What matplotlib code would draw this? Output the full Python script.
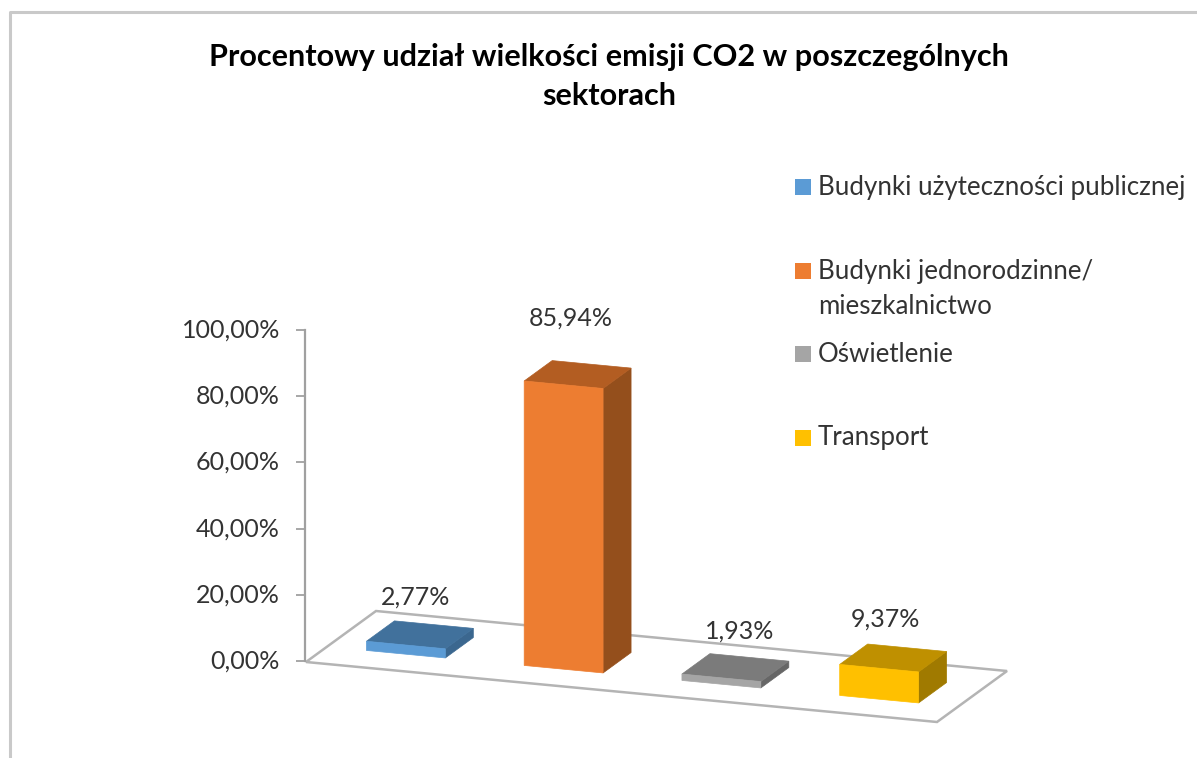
import numpy as np
from matplotlib import pyplot as plt
from matplotlib.patches import Polygon

# chart values
categories = ['Budynki użyteczności publicznej', 'Budynki jednorodzinne/\nmieszkalnictwo',
              'Oświetlenie', 'Transport']
values = [2.77, 85.94, 1.93, 9.37]
value_labels = ['2,77%', '85,94%', '1,93%', '9,37%']
value_ticks = [0, 20, 40, 60, 80, 100]
title = 'Procentowy udział wielkości emisji CO2 w poszczególnych\nsektorach'

# face colours: front, top, side
front_colors = ['#5b9bd5', '#ed7d31', '#a5a5a5', '#ffc000']
top_colors = ['#41719c', '#b35d22', '#7b7b7b', '#bf9000']
side_colors = ['#3b678f', '#944f1c', '#666666', '#a07a00']

W, H = 1197, 758
# oblique projection of the floor, in pixels
origin = np.array([306., 662.])
front_vec = np.array([631., 60.])
depth_vec = np.array([70., -51.])
px_per_unit = 3.31
bar_width = 0.125
bar_depth = (0.3, 0.7)
label_shift = [(-4, -38), (-7, -56), (4, -37), (-8, -39)]
legend_y = [187, 271, 354, 438]

plt.rcParams['font.family'] = ['Lato', 'DejaVu Sans']


def project(t, s, v=0.):
    p = origin + t*front_vec + s*depth_vec
    return (p[0], p[1] - v*px_per_unit)


def draw_bar(ax, i, v):
    t0 = (i + 0.5)/len(values) - bar_width/2
    t1 = t0 + bar_width
    s0, s1 = bar_depth
    front = [project(t0, s0), project(t1, s0), project(t1, s0, v), project(t0, s0, v)]
    side = [project(t1, s0), project(t1, s1), project(t1, s1, v), project(t1, s0, v)]
    top = [project(t0, s0, v), project(t1, s0, v), project(t1, s1, v), project(t0, s1, v)]
    ax.add_patch(Polygon(side, color=side_colors[i], lw=0.5, zorder=3))
    ax.add_patch(Polygon(top, color=top_colors[i], lw=0.5, zorder=3))
    ax.add_patch(Polygon(front, color=front_colors[i], lw=0.5, zorder=4))
    cx, cy = project((t0 + t1)/2, 0.5, v)
    dx, dy = label_shift[i]
    ax.text(cx + dx, cy + dy, value_labels[i], fontsize=18, color='#333333',
            ha='center', va='center', zorder=5)


def main():
    fig = plt.figure(figsize=(W/100, H/100), dpi=100)
    ax = fig.add_axes([0, 0, 1, 1])
    ax.set_xlim(0, W)
    ax.set_ylim(H, 0)
    ax.axis('off')

    # chart area border, only top and left show in the crop
    ax.plot([10, 10, W], [H, 12, 12], color='#c9c9c9', lw=2.2, zorder=1)

    # floor
    corners = [project(0, 0), project(1, 0), project(1, 1), project(0, 1)]
    ax.add_patch(Polygon(corners, closed=True, fc='white', ec='#b4b4b4', lw=1.8, zorder=2))

    # value axis
    y0 = 661.
    ax_val = fig.add_axes([305/W, 1 - y0/H, 1/W, 100*px_per_unit/H])
    ax_val.patch.set_visible(False)
    ax_val.set_ylim(0, 100)
    ax_val.set_xticks([])
    ax_val.set_yticks(value_ticks)
    ax_val.set_yticklabels(['%d,00%%' % v for v in value_ticks])
    ax_val.tick_params(axis='y', length=6.5, width=1.3, color='#a0a0a0', pad=11.5,
                       labelsize=18, labelcolor='#333333')
    for lab in ax_val.get_yticklabels():
        lab.set_verticalalignment('center')
    for name in ['top', 'right', 'bottom']:
        ax_val.spines[name].set_visible(False)
    ax_val.spines['left'].set_color('#a0a0a0')
    ax_val.spines['left'].set_linewidth(1.6)

    for i, v in enumerate(values):
        draw_bar(ax, i, v)

    # legend
    for i, name in enumerate(categories):
        y = legend_y[i]
        ax.add_patch(Polygon([(795, y - 8), (811, y - 8), (811, y + 8), (795, y + 8)],
                             color=front_colors[i], lw=0, zorder=3))
        lines = name.split('\n')
        for j, line in enumerate(lines):
            ax.text(818, y + j*35, line, fontsize=18.6, color='#333333', va='center', ha='left')

    ax.text(609, 76.5, title, fontsize=22.1, fontweight='bold', color='black',
            ha='center', va='center', linespacing=1.45)

    fig.savefig('out.png', dpi=100)


main()
